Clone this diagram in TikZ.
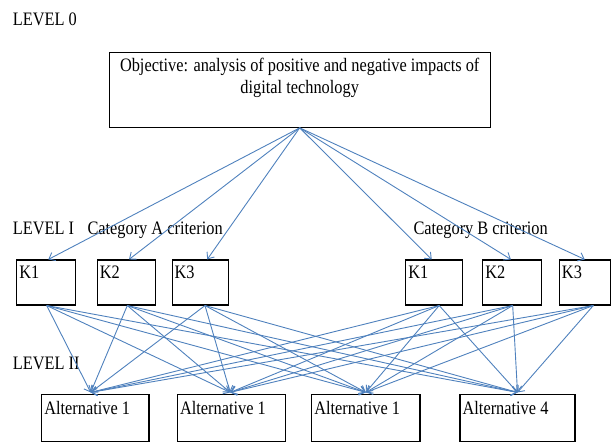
\documentclass[tikz,border=0pt]{standalone}
\usepackage{fontspec}
\setmainfont[FakeStretch=0.86]{Liberation Serif}
\usetikzlibrary{arrows.meta}
\definecolor{linkblue}{RGB}{79,129,189}

\begin{document}
\begin{tikzpicture}[x=1pt, y=-1pt,
	every node/.style={font=\fontsize{19}{21.6}\selectfont},
	txt/.style={anchor=base west, inner sep=0pt},
	box/.style={draw, line width=1.1pt, inner sep=0pt, minimum height=#1},
	tag/.style={label={[anchor=north west, inner xsep=3pt, inner ysep=6.4pt]north west:#1}},
	link/.style={draw=linkblue, line width=0.9pt, -{Straight Barb[length=5.5pt, width=9pt]}}]
	\useasboundingbox (0,0) rectangle (611,443);
	% Ebenen
	\node[txt] (lvl0) at (12.7, 26) {LEVEL 0};
	\node[txt] (lvl1) at (12.7, 235) {LEVEL I};
	\node[txt] (lvl2) at (12.7, 369.3) {LEVEL II};
	\node[txt] (cata) at (87.3, 235) {Category A criterion};
	\node[txt] (catb) at (413.3, 235) {Category B criterion};
	% Ziel
	\node[box=75, minimum width=380.7,
		label={[anchor=north, align=center, inner ysep=6.4pt]north:{Objective: analysis of positive and negative impacts of\\digital technology}}]
		(obj) at (299.7, 89.8) {};
	% Kriterien
	\node[box=45, minimum width=58.6, tag=K1] (k1a) at (46, 282.5) {};
	\node[box=45, minimum width=58.4, tag=K2] (k2a) at (126.5, 282.5) {};
	\node[box=45, minimum width=56.3, tag=K3] (k3a) at (200.2, 282.5) {};
	\node[box=45, minimum width=57, tag=K1] (k1b) at (434.2, 282.5) {};
	\node[box=45, minimum width=58.3, tag=K2] (k2b) at (511.9, 282.5) {};
	\node[box=45, minimum width=51, tag=K3] (k3b) at (584.8, 282.5) {};
	% Alternativen
	\node[box=46.7, minimum width=107.3, tag=Alternative 1] (alt1) at (95.3, 418.3) {};
	\node[box=46.7, minimum width=107.7, tag=Alternative 1] (alt2) at (231.2, 418.3) {};
	\node[box=46.7, minimum width=108.3, tag=Alternative 1] (alt3) at (365.8, 418.3) {};
	\node[box=46.7, minimum width=115, tag=Alternative 4] (alt4) at (517.5, 418.3) {};
	% Pfeile Ebene 0 -> I
	\foreach \k/\dk in {k1a/2.3, k2a/2.5, k3a/7, k1b/-2.5, k2b/-1, k3b/0}
		\draw[link] (obj.south) -- ([xshift=\dk pt]\k.north);
	% Pfeile Ebene I -> II
	\foreach \k/\dk in {k1a/0.7, k2a/0.8, k3a/4.8, k1b/5, k2b/0.8, k3b/8.5}
		\foreach \a/\da in {alt1/-4.6, alt2/-1, alt3/0, alt4/0}
			\draw[link] ([xshift=\dk pt]\k.south) -- ([xshift=\da pt, yshift=2pt]\a.north);
\end{tikzpicture}
\end{document}
